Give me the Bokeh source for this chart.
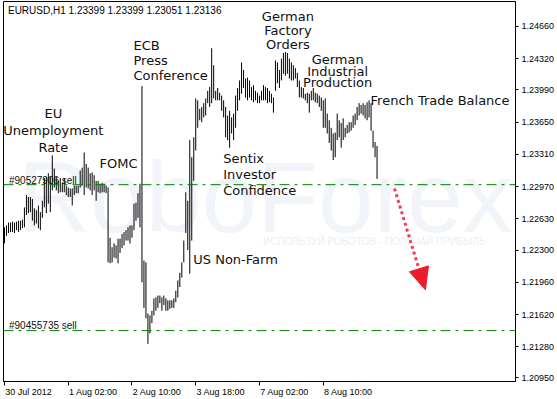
import math
from bokeh.plotting import figure
from bokeh.models import ColumnDataSource, Range1d, FixedTicker, PrintfTickFormatter, Span
from bokeh.core.properties import value
from bokeh.embed import file_html
from bokeh.resources import INLINE

# ---------------- data ----------------
symbol = "EURUSD,H1"
tick_times = ["30 Jul 2012", "1 Aug 02:00", "2 Aug 10:00", "3 Aug 18:00", "7 Aug 02:00", "8 Aug 10:00"]
tick_bars = [0, 32, 64, 96, 128, 160]
price_ticks = [1.24660, 1.24320, 1.23990, 1.23650, 1.23310, 1.22970,
               1.22630, 1.22300, 1.21960, 1.21620, 1.21280, 1.20950]

high = [
    1.2254, 1.2256, 1.2259, 1.2259, 1.2260, 1.2259, 1.2260, 1.2261, 1.2261, 1.2262,
    1.2275, 1.2288, 1.2286, 1.2286, 1.2284, 1.2274, 1.2272, 1.2277, 1.2270, 1.2282,
    1.2306, 1.2307, 1.2311, 1.2307, 1.2330, 1.2316, 1.2307, 1.2303, 1.2306, 1.2301,
    1.2306, 1.2298, 1.2296, 1.2295, 1.2295, 1.2298, 1.2298, 1.2298, 1.2314, 1.2317,
    1.2333, 1.2321, 1.2317, 1.2311, 1.2312, 1.2309, 1.2303, 1.2303, 1.2300, 1.2301,
    1.2300, 1.2298, 1.2296, 1.2243, 1.2233, 1.2237, 1.2235, 1.2242, 1.2242, 1.2247,
    1.2249, 1.2251, 1.2254, 1.2256, 1.2256, 1.2279, 1.2280, 1.2290, 1.2300, 1.2403,
    1.2219, 1.2217, 1.2163, 1.2161, 1.2166, 1.2179, 1.2180, 1.2182, 1.2182, 1.2180,
    1.2182, 1.2179, 1.2177, 1.2177, 1.2177, 1.2179, 1.2187, 1.2198, 1.2206, 1.2217,
    1.2240, 1.2291, 1.2282, 1.2346, 1.2328, 1.2349, 1.2390, 1.2388, 1.2379, 1.2381,
    1.2385, 1.2390, 1.2398, 1.2402, 1.2443, 1.2425, 1.2398, 1.2401, 1.2396, 1.2393,
    1.2388, 1.2381, 1.2372, 1.2377, 1.2370, 1.2374, 1.2393, 1.2401, 1.2409, 1.2428,
    1.2420, 1.2411, 1.2412, 1.2409, 1.2402, 1.2404, 1.2398, 1.2396, 1.2393, 1.2398,
    1.2404, 1.2402, 1.2401, 1.2398, 1.2395, 1.2391, 1.2430, 1.2428, 1.2420, 1.2432,
    1.2438, 1.2439, 1.2438, 1.2432, 1.2428, 1.2425, 1.2422, 1.2417, 1.2409, 1.2402,
    1.2401, 1.2395, 1.2396, 1.2395, 1.2398, 1.2401, 1.2396, 1.2395, 1.2393, 1.2391,
    1.2388, 1.2390, 1.2374, 1.2367, 1.2359, 1.2353, 1.2354, 1.2374, 1.2367, 1.2364,
    1.2369, 1.2359, 1.2362, 1.2365, 1.2365, 1.2372, 1.2374, 1.2381, 1.2385, 1.2383,
    1.2385, 1.2383, 1.2386, 1.2388, 1.2385, 1.2356, 1.2344, 1.23399,
]
low = [
    1.2237, 1.2245, 1.2248, 1.2249, 1.2249, 1.2248, 1.2251, 1.2249, 1.2251, 1.2253,
    1.2254, 1.2267, 1.2269, 1.2270, 1.2261, 1.2256, 1.2258, 1.2253, 1.2251, 1.2264,
    1.2275, 1.2269, 1.2279, 1.2270, 1.2293, 1.2296, 1.2293, 1.2290, 1.2291, 1.2291,
    1.2291, 1.2288, 1.2286, 1.2286, 1.2277, 1.2288, 1.2290, 1.2290, 1.2296, 1.2298,
    1.2288, 1.2296, 1.2295, 1.2293, 1.2288, 1.2293, 1.2282, 1.2291, 1.2290, 1.2291,
    1.2291, 1.2290, 1.2217, 1.2216, 1.2217, 1.2222, 1.2221, 1.2216, 1.2227, 1.2232,
    1.2235, 1.2240, 1.2240, 1.2237, 1.2243, 1.2251, 1.2261, 1.2264, 1.2254, 1.2196,
    1.2169, 1.2158, 1.2131, 1.2142, 1.2153, 1.2161, 1.2166, 1.2169, 1.2174, 1.2166,
    1.2172, 1.2166, 1.2166, 1.2168, 1.2169, 1.2169, 1.2175, 1.2180, 1.2191, 1.2201,
    1.2217, 1.2248, 1.2230, 1.2205, 1.2240, 1.2303, 1.2335, 1.2359, 1.2367, 1.2365,
    1.2370, 1.2372, 1.2385, 1.2381, 1.2385, 1.2390, 1.2388, 1.2388, 1.2388, 1.2377,
    1.2370, 1.2349, 1.2346, 1.2338, 1.2353, 1.2346, 1.2359, 1.2377, 1.2388, 1.2395,
    1.2401, 1.2391, 1.2388, 1.2391, 1.2388, 1.2386, 1.2388, 1.2385, 1.2385, 1.2388,
    1.2388, 1.2388, 1.2385, 1.2386, 1.2385, 1.2375, 1.2398, 1.2406, 1.2401, 1.2409,
    1.2416, 1.2414, 1.2416, 1.2411, 1.2409, 1.2409, 1.2411, 1.2402, 1.2391, 1.2391,
    1.2390, 1.2388, 1.2385, 1.2375, 1.2388, 1.2388, 1.2386, 1.2385, 1.2381, 1.2377,
    1.2359, 1.2359, 1.2353, 1.2343, 1.2335, 1.2325, 1.2328, 1.2346, 1.2349, 1.2338,
    1.2346, 1.2349, 1.2353, 1.2354, 1.2356, 1.2359, 1.2362, 1.2367, 1.2372, 1.2374,
    1.2372, 1.2369, 1.2367, 1.2370, 1.2356, 1.2338, 1.2328, 1.23051,
]
last_open, last_high, last_low, last_close = 1.23399, 1.23399, 1.23051, 1.23136

order_prices = [1.2299, 1.2145]
order_labels = ["#90527906 sell", "#90455735 sell"]

forecast_from = (195.75, 1.2295)
forecast_to = (211.25, 1.2188)

# event annotations (text, bar position, price of text baseline)
left_events = [
    ("ECB", 64.75, 1.24406), ("Press", 64.75, 1.24248), ("Conference", 64.75, 1.24090),
    ("FOMC", 47.75, 1.23171),
    ("Sentix", 109.75, 1.23214), ("Investor", 109.75, 1.23045), ("Confidence", 109.75, 1.22876),
    ("US Non-Farm", 94.75, 1.22158),
    ("French Trade Balance", 183.75, 1.23826),
]
center_events = [
    ("EU", 24.5, 1.23689), ("Unemployment", 24.5, 1.23509), ("Rate", 24.5, 1.23340),
    ("German", 142.25, 1.24712), ("Factory", 142.25, 1.24565), ("Orders", 142.25, 1.24427),
    ("German", 167.25, 1.24264), ("Industrial", 167.25, 1.24142), ("Production", 167.25, 1.24026),
]

# ---------------- figure ----------------
SMALL = "Liberation Sans"
EVT = "DejaVu Sans"
X0, X1 = -0.5, 256.5
Y0, Y1 = 1.20913, 1.24923
FRAME_W, FRAME_H = 514, 380

p = figure(width=557, height=399, output_backend="svg", toolbar_location=None,
           x_range=Range1d(X0, X1), y_range=Range1d(Y0, Y1),
           y_axis_location="right",
           min_border_left=3, min_border_right=40, min_border_top=1, min_border_bottom=18)
p.background_fill_color = "white"
p.border_fill_color = "white"
p.outline_line_color = "black"
p.xgrid.visible = False
p.ygrid.visible = False

# watermark
p.text(x=[6.75], y=[1.22485], text=["RoboForex"], text_font=value(SMALL),
       text_font_size="100px", text_color="#f1f4f8",
       text_baseline="bottom", text_align="left", y_offset=20)
p.text(x=[129.75], y=[1.22349], text=["ИСПОЛЬЗУЙ РОБОТОВ - ПОЛУЧАЙ ПРИБЫЛЬ"],
       text_font=value(SMALL), text_font_size="10px", text_color="#ebeff5",
       text_baseline="bottom", text_align="left", y_offset=2)

# order lines
for op in order_prices:
    p.add_layout(Span(location=op, dimension="width", line_color="#008000",
                      line_width=1, line_dash="10 5 3 5"))

# bars
src = ColumnDataSource(dict(x=list(range(len(high))), high=high, low=low))
p.segment(x0="x", y0="low", x1="x", y1="high", source=src, line_color="black", line_width=1)

# order labels
p.text(x=[2.25, 2.25], y=[1.22992, 1.21472], text=order_labels, text_font=value(SMALL),
       text_font_size="10px", text_color="#101010", text_baseline="bottom", y_offset=2)

# header
header = f"{symbol}  {last_open:.5f} {last_high:.5f} {last_low:.5f} {last_close:.5f}"
p.text(x=[1.75], y=[1.24786], text=[header], text_font=value(SMALL),
       text_font_size="10px", text_color="black", text_baseline="bottom", y_offset=2)

# events
p.text(x=[e[1] for e in left_events], y=[e[2] for e in left_events],
       text=[e[0] for e in left_events], text_font=value(EVT), text_font_size="13px",
       text_color="#101010", text_align="left", text_baseline="bottom", y_offset=3)
p.text(x=[e[1] for e in center_events], y=[e[2] for e in center_events],
       text=[e[0] for e in center_events], text_font=value(EVT), text_font_size="13px",
       text_color="#101010", text_align="center", text_baseline="bottom", y_offset=3)

# forecast arrow: dotted shaft + triangular head (head geometry computed in screen pixels)
kx = FRAME_W / (X1 - X0)
ky = FRAME_H / (Y1 - Y0)
sdx = (forecast_to[0] - forecast_from[0]) * kx
sdy = (forecast_to[1] - forecast_from[1]) * ky
L = math.hypot(sdx, sdy)
ux, uy = sdx / L, sdy / L
head_len, head_w = 22.0, 20.0
bx, by = -ux * head_len, -uy * head_len
nx, ny = -uy, ux
tri_x = [forecast_to[0],
         forecast_to[0] + (bx + nx * head_w / 2) / kx,
         forecast_to[0] + (bx - nx * head_w / 2) / kx]
tri_y = [forecast_to[1],
         forecast_to[1] + (by + ny * head_w / 2) / ky,
         forecast_to[1] + (by - ny * head_w / 2) / ky]
p.segment(x0=[forecast_from[0]], y0=[forecast_from[1]],
          x1=[forecast_to[0] + bx / kx], y1=[forecast_to[1] + by / ky],
          line_color="#f0405a", line_width=3, line_dash="3 3")
p.patch(x=tri_x, y=tri_y, fill_color="#ee1c2b", line_color="#ee1c2b")

# x axis: short tick marks at bar positions (minor), labels placed just right of them
label_shift = [12.0] + [12.5] * (len(tick_bars) - 1)
label_centers = [b + s for b, s in zip(tick_bars, label_shift)]
xa = p.xaxis[0]
xa.ticker = FixedTicker(ticks=label_centers, minor_ticks=tick_bars)
xa.major_label_overrides = {c: t for c, t in zip(label_centers, tick_times)}
xa.major_tick_out = 0
xa.major_tick_in = 0
xa.minor_tick_out = 4
xa.minor_tick_in = 0
xa.minor_tick_line_color = "black"
xa.major_label_standoff = 1
xa.axis_line_color = "black"
xa.major_label_text_font = SMALL
xa.major_label_text_font_size = "9px"
xa.major_label_text_color = "black"

ya = p.yaxis[0]
ya.ticker = FixedTicker(ticks=price_ticks)
ya.formatter = PrintfTickFormatter(format="%.5f")
ya.major_tick_out = 3
ya.major_tick_in = 0
ya.minor_tick_out = 0
ya.minor_tick_in = 0
ya.major_label_standoff = 3
ya.axis_line_color = "black"
ya.major_label_text_font = SMALL
ya.major_label_text_font_size = "9px"
ya.major_label_text_color = "black"

open("out.html", "w").write(file_html(p, INLINE))
